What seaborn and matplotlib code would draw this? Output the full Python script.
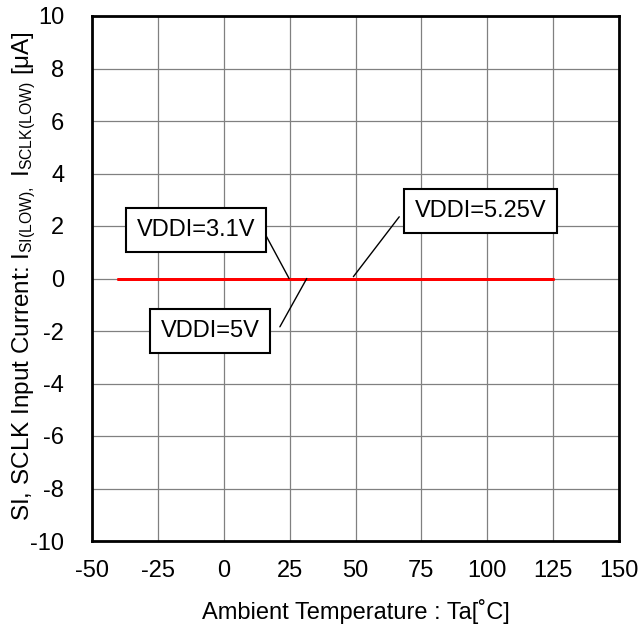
import pandas as pd
import matplotlib
matplotlib.use("Agg")
import matplotlib.pyplot as plt
import matplotlib._mathtext as mathtext_mod
import seaborn as sns

# data (all three supplies sit on 0 uA)
temps = [-40, -20, 0, 25, 50, 75, 100, 125]
i_31 = [0, 0, 0, 0, 0, 0, 0, 0]
i_50 = [0, 0, 0, 0, 0, 0, 0, 0]
i_525 = [0, 0, 0, 0, 0, 0, 0, 0]
labels = ["VDDI=3.1V", "VDDI=5V", "VDDI=5.25V"]

x_ticks = [-50, -25, 0, 25, 50, 75, 100, 125, 150]
y_ticks = [-10, -8, -6, -4, -2, 0, 2, 4, 6, 8, 10]

df = pd.concat([
    pd.DataFrame({"Ta": temps, "I": i_31, "VDDI": labels[0]}),
    pd.DataFrame({"Ta": temps, "I": i_50, "VDDI": labels[1]}),
    pd.DataFrame({"Ta": temps, "I": i_525, "VDDI": labels[2]}),
], ignore_index=True)

sns.set_theme(style="white")
plt.rcParams['font.family'] = ['Liberation Sans', 'DejaVu Sans']
plt.rcParams['mathtext.fontset'] = 'custom'
plt.rcParams['mathtext.rm'] = 'Liberation Sans'
plt.rcParams['mathtext.it'] = 'Liberation Sans'
plt.rcParams['axes.unicode_minus'] = False
plt.rcParams['text.color'] = 'black'
plt.rcParams['axes.labelcolor'] = 'black'
# smaller subscripts, like the original
mathtext_mod.SHRINK_FACTOR = 0.65

fig = plt.figure(figsize=(6.39, 6.26), dpi=100)
ax = fig.add_axes([92 / 639, 1 - 541 / 626, 527 / 639, 525 / 626])

sns.lineplot(data=df, x="Ta", y="I", hue="VDDI", palette=["#ff0000"] * 3,
             linewidth=2, legend=False, ax=ax, zorder=3)

ax.set_xlim(-50, 150)
ax.set_ylim(-10, 10)
ax.set_xticks(x_ticks)
ax.set_yticks(y_ticks)
ax.grid(True, color="#808080", linewidth=0.9)
ax.tick_params(axis="both", length=0, labelsize=17, colors="black")
ax.tick_params(axis="x", pad=14)
ax.tick_params(axis="y", pad=20)
for s in ax.spines.values():
    s.set_color("black")
    s.set_linewidth(2)

ax.set_xlabel("Ambient Temperature : Ta[˚C]", fontsize=17, labelpad=12)
ax.set_ylabel(r"SI, SCLK Input Current: I$_{\mathrm{SI(LOW),}}$ I$_{\mathrm{SCLK(LOW)}}$ [μA]",
              fontsize=17.5)
ax.yaxis.set_label_coords(-0.1025, 0.505)

box = dict(boxstyle="square,pad=0.45", fc="white", ec="black", lw=1.5)
# (label, text position, leader end on curve, leader start at box)
notes = [
    (labels[0], (-10.5, 1.85), (24.8, 0.0), (15.3, 1.77)),
    (labels[1], (-5.2, -2.0), (31.5, 0.0), (21.3, -1.84)),
    (labels[2], (97.4, 2.57), (49.2, 0.07), (66.6, 2.35)),
]
for txt, tpos, pt, start in notes:
    ax.plot([start[0], pt[0]], [start[1], pt[1]], color="black", lw=1.0, zorder=4)
    ax.text(tpos[0], tpos[1], txt, fontsize=17, ha="center", va="center",
            color="black", bbox=box, zorder=5)

fig.savefig("out.png", dpi=100)
